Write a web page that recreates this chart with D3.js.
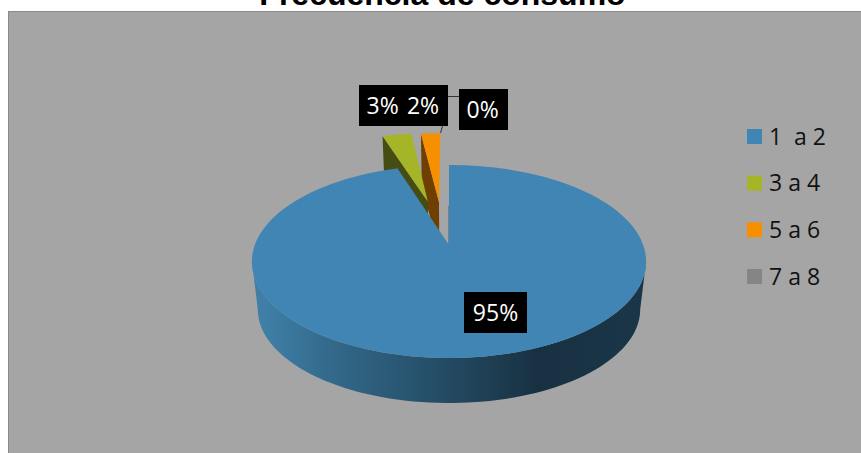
<!DOCTYPE html>
<html>
<head>
<meta charset="utf-8">
<script src="https://cdn.jsdelivr.net/npm/d3@7/dist/d3.min.js"></script>
<style>
html,body{margin:0;padding:0;background:#fff;overflow:hidden}
svg{display:block}
text{white-space:pre}
</style>
</head>
<body>
<svg id="chart" width="861" height="453"></svg>
<script>
// Consumption frequency, share of respondents per band
const categories = ["1  a 2", "3 a 4", "5 a 6", "7 a 8"];
const shares = [95, 3, 2, 0];
const sliceColors = ["#4085b3", "#a6b527", "#f79000", "#858585"];
const wallColors = ["#234a62", "#454d12", "#6e3f00", "#444444"];
const chartTitle = "Frecuencia de consumo";

const svg = d3.select("#chart");

// Panel
svg.append("rect").attr("x", 8.5).attr("y", 11.5).attr("width", 870).attr("height", 460)
  .attr("fill", "#a5a5a5").attr("stroke", "#8a8a8a");

svg.append("text").attr("x", 442.5).attr("y", 5)
  .attr("text-anchor", "middle").attr("font-family", "Liberation Sans")
  .attr("font-weight", "bold").attr("font-size", 32).attr("fill", "#000")
  .text(chartTitle);

// Perspective projection of the pie's disc onto the page
const origin = {x: 449, y: 245};
const tilt = 0.171, spanX = 194.2, spanY = 93.7, depth = 48.4, baseShrink = 0.97;
function project(X, Y, lower) {
  const w = 1 + tilt * Y;
  const s = lower ? baseShrink : 1;
  return [origin.x + s * spanX * X / w,
          origin.y - s * spanY * Y / w + (lower ? depth : 0)];
}

// Slices are pulled out from the disc by these offsets (disc radius = 1)
const explode = [[0, 0], [-0.118, 0.5], [-0.056, 0.498], [-0.03, 0.5]];

const arcs = d3.pie().sort(null).value(d => d)(shares);
const degrees = d3.scaleLinear().domain([0, 2 * Math.PI]).range([0, 360]);

function rim(i, a0, a1, lower) {
  const [ox, oy] = explode[i];
  const steps = Math.max(2, Math.ceil(degrees(a1 - a0) / 2));
  return d3.range(steps + 1).map(k => {
    const a = a0 + (a1 - a0) * k / steps;
    return project(ox + Math.sin(a), oy + Math.cos(a), lower);
  });
}
const line = d3.line();

// Exploded slices sit behind the large one; the orange one is furthest back
[2, 1].forEach(i => {
  const {startAngle: a0, endAngle: a1} = arcs[i];
  const [ox, oy] = explode[i];
  const up = project(ox + Math.sin(a0), oy + Math.cos(a0), false);
  const down = project(ox + Math.sin(a0), oy + Math.cos(a0), true);
  const apexUp = project(ox, oy, false);
  const apexDown = project(ox, oy, true);
  svg.append("path").attr("d", line([up, down, apexDown, apexUp]) + "Z").attr("fill", wallColors[i]);
  svg.append("path").attr("d", line([apexUp, ...rim(i, a0, a1, false)]) + "Z").attr("fill", sliceColors[i]);
});

// Shaded front wall of the large slice, between the disc's widest points
const defs = svg.append("defs");
const grad = defs.append("linearGradient").attr("id", "wall")
  .attr("gradientUnits", "userSpaceOnUse")
  .attr("x1", 252).attr("x2", 647).attr("y1", 0).attr("y2", 0);
[[0, "#40809f"], [0.03, "#3f7fa8"], [0.2, "#33698a"], [0.5, "#234a62"], [0.72, "#183142"], [1, "#1a3648"]]
  .forEach(([o, c]) => grad.append("stop").attr("offset", o).attr("stop-color", c));

const widest = Math.acos(-tilt);
const wallTop = rim(0, widest, 2 * Math.PI - widest, false);
const wallBase = rim(0, widest, 2 * Math.PI - widest, true).reverse();
svg.append("path").attr("d", line([...wallTop, ...wallBase]) + "Z").attr("fill", "url(#wall)");

// Sliver of the cut face along the slice's straight edge
svg.append("path").attr("d", line([project(0, 0.45, false), project(0, 0, false)]))
  .attr("stroke", "#2f5f7d").attr("fill", "none");

svg.append("path")
  .attr("d", line([project(0, 0, false), ...rim(0, arcs[0].startAngle, arcs[0].endAngle, false)]) + "Z")
  .attr("fill", sliceColors[0]);

// Leader lines for the crowded labels
[[[447, 96.5], [459, 96.5]], [[442.5, 126], [440.5, 133]]].forEach(seg =>
  svg.append("path").attr("d", line(seg)).attr("stroke", "#333").attr("fill", "none"));

// Data labels
const labelBoxes = [
  {i: 0, x: 464, y: 292, w: 63, h: 41, cx: 495.5},
  {i: 1, x: 359, y: 85, w: 46, h: 41, cx: 382.7},
  {i: 2, x: 401, y: 85, w: 47, h: 41, cx: 423},
  {i: 3, x: 459, y: 89, w: 49, h: 41, cx: 482.7}
];
labelBoxes.forEach(b => {
  svg.append("rect").attr("x", b.x).attr("y", b.y).attr("width", b.w).attr("height", b.h).attr("fill", "#000");
});
labelBoxes.forEach(b => {
  svg.append("text").attr("x", b.cx).attr("y", b.y + b.h / 2 + 8)
    .attr("text-anchor", "middle").attr("font-family", "Open Sans").attr("font-size", 23)
    .attr("fill", "#fff").text(shares[b.i] + "%");
});

// Legend
const legendY = d3.scalePoint().domain(categories).range([136.5, 276.5]);
categories.forEach((c, i) => {
  svg.append("rect").attr("x", 747).attr("y", legendY(c) - 7.5).attr("width", 15).attr("height", 15)
    .attr("fill", sliceColors[i]);
  svg.append("text").attr("x", 769).attr("y", legendY(c) + 8)
    .attr("font-family", "Open Sans").attr("font-size", 23).attr("fill", "#111").text(c);
});
</script>
</body>
</html>
